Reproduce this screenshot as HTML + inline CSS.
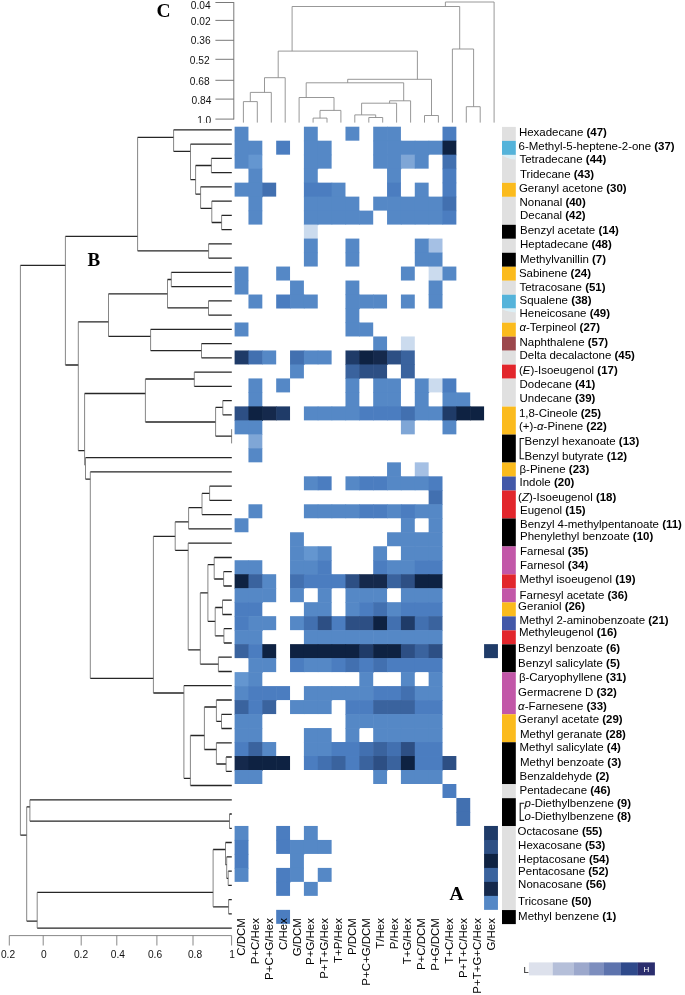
<!DOCTYPE html>
<html lang="en"><head><meta charset="utf-8"><title>Heatmap</title>
<style>html,body{margin:0;padding:0;background:#fff}svg{display:block}text{font-family:"Liberation Sans",sans-serif;fill:#000}.s{font-family:"Liberation Serif",serif;font-weight:bold;fill:#000}.l{font-size:10.4px}.l b,.l .b{font-weight:bold}.l .i{font-style:italic}.a{font-size:10.2px;fill:#111}</style></head><body>
<svg width="685" height="995" viewBox="0 0 685 995">
<rect width="685" height="995" fill="#fff"/>
<defs><clipPath id="c1"><rect x="0" y="0" width="240" height="123"/></clipPath></defs>
<g clip-path="url(#c1)">
<text class="a" x="210.7" y="9.0" text-anchor="end">0.04</text>
<text class="a" x="210.7" y="25.0" text-anchor="end">0.02</text>
<text class="a" x="210.7" y="43.8" text-anchor="end">0.36</text>
<text class="a" x="209.7" y="64.4" text-anchor="end">0.52</text>
<text class="a" x="209.7" y="84.8" text-anchor="end">0.68</text>
<text class="a" x="211.3" y="103.6" text-anchor="end">0.84</text>
<text class="a" x="211.3" y="124.0" text-anchor="end">1.0</text>
</g>
<g stroke="#6a6a6a" stroke-width="0.9" fill="none">
<path d="M233.8 2.1V119.5"/>
<path d="M215.4 2.5H233.8M215.4 20.4H233.8M215.4 40.3H233.8M215.4 59.3H233.8M215.4 80.3H233.8M215.4 99.1H233.8M215.4 119.1H233.8"/>
</g>
<path d="M243.4 101.6H257.3M250.3 92.4H271.3M264.5 77.7H285.2M278.2 51.1H417.4M299.1 97.5H334.0M320.0 110.4H340.9M313.1 118.1H327.0M306.2 82.8H403.7M389.6 100.8H410.6M361.6 103.2H396.6M354.8 114.9H375.7M368.8 117.5H382.7M347.7 79.3H431.5M424.5 115.5H438.4M292.1 6.5H459.7M452.4 49.0H473.6M466.3 106.7H480.2M445.4 2.0H494.1M243.4 101.6V122.6M257.3 101.6V122.6M250.3 92.4V101.6M271.3 92.4V122.6M264.5 77.7V92.4M285.2 77.7V122.6M278.2 51.1V77.7M299.1 97.5V122.6M334.0 97.5V110.4M340.9 110.4V122.6M320.0 110.4V118.1M313.1 118.1V122.6M327.0 118.1V122.6M306.2 82.8V97.5M403.7 82.8V100.8M410.6 100.8V122.6M389.6 100.8V103.2M396.6 103.2V122.6M361.6 103.2V114.9M354.8 114.9V122.6M375.7 114.9V117.5M368.8 117.5V122.6M382.7 117.5V122.6M347.7 79.3V82.8M431.5 79.3V115.5M424.5 115.5V122.6M438.4 115.5V122.6M417.4 51.1V79.3M292.1 6.5V51.1M459.7 6.5V49.0M452.4 49.0V122.6M473.6 49.0V106.7M466.3 106.7V122.6M480.2 106.7V122.6M445.4 2.0V6.5M494.1 2.0V122.6" stroke="#8c8c8c" stroke-width="0.9" fill="none"/>
<path d="M173.6 129.8H231.8M190.5 144.1H231.8M211.4 158.3H231.8M211.4 172.6H231.8M195.6 165.5H211.4M200.6 186.8H231.8M211.8 201.1H231.8M221.6 215.3H231.8M221.6 229.6H231.8M211.8 222.5H221.6M200.6 208.3H211.8M195.6 194.2H200.6M190.5 179.7H195.6M173.6 151.3H190.5M137.6 137.4H173.6M208.6 243.8H231.8M208.6 258.1H231.8M137.6 250.9H208.6M65.4 236.3H137.6M20.4 265.3H65.4M171.3 272.4H231.8M171.3 286.6H231.8M167.5 279.5H171.3M208.5 300.9H231.8M208.5 315.1H231.8M167.5 307.9H208.5M108.5 293.8H167.5M150.6 329.4H231.8M201.5 343.6H231.8M201.5 357.9H231.8M150.6 350.7H201.5M108.5 336.4H150.6M78.3 321.8H108.5M65.4 365.0H78.3M78.3 450.7H84.6M194.3 372.1H231.8M194.3 386.4H231.8M145.4 379.0H194.3M222.8 400.6H231.8M222.8 414.9H231.8M215.6 407.4H222.8M215.6 436.2H231.8M145.4 422.0H215.6M84.6 393.5H145.4M85.5 457.7H231.8M85.5 479.1H90.3M90.3 471.9H231.8M90.3 678.3H153.4M209.6 486.2H231.8M209.6 500.4H231.8M202.0 493.4H209.6M202.0 514.7H231.8M188.6 507.7H202.0M188.6 528.9H231.8M175.2 521.8H188.6M188.2 543.2H231.8M175.2 550.3H188.2M153.4 536.4H175.2M214.2 557.5H231.8M223.6 571.7H231.8M223.6 586.0H231.8M214.2 579.0H223.6M207.9 564.6H214.2M222.5 600.2H231.8M222.5 614.5H231.8M215.2 607.5H222.5M223.9 628.7H231.8M223.9 643.0H231.8M215.2 635.9H223.9M207.9 621.4H215.2M200.3 592.9H207.9M218.4 657.2H231.8M218.4 671.5H231.8M200.3 664.2H218.4M188.2 649.9H200.3M183.9 685.7H231.8M153.4 693.0H183.9M216.4 700.0H231.8M221.5 714.3H231.8M221.5 728.5H231.8M216.4 721.4H221.5M204.4 707.0H216.4M216.4 742.8H231.8M226.1 757.0H231.8M226.1 771.3H231.8M216.4 764.0H226.1M204.4 749.5H216.4M190.4 735.5H204.4M190.4 785.5H231.8M183.9 778.3H190.4M29.9 799.8H231.8M29.9 821.1H229.5M229.5 814.0H231.8M229.5 828.3H231.8M26.7 806.8H29.9M20.4 835.2H26.7M225.5 842.5H231.8M226.7 856.8H231.8M228.2 871.1H231.8M228.2 885.3H231.8M226.7 878.4H228.2M225.5 864.6H226.7M213.1 849.5H225.5M228.6 899.6H231.8M228.6 913.8H231.8M213.1 906.8H228.6M37.2 892.4H213.1M37.2 928.1H231.8M26.7 921.1H37.2" stroke="#262626" stroke-width="1.3" fill="none"/>
<path d="M211.4 158.3V172.6M221.6 215.3V229.6M211.8 201.1V222.5M200.6 186.8V208.3M195.6 165.5V194.2M190.5 144.1V179.7M173.6 129.8V151.3M208.6 243.8V258.1M137.6 137.4V250.9M65.4 236.3V365.0M20.4 265.3V835.2M171.3 272.4V286.6M208.5 300.9V315.1M167.5 279.5V307.9M201.5 343.6V357.9M150.6 329.4V350.7M108.5 293.8V336.4M78.3 321.8V450.7M194.3 372.1V386.4M222.8 400.6V414.9M231.6 429.2V443.4M215.6 407.4V436.2M145.4 379.0V422.0M84.6 393.5V465.3M85.5 457.7V479.1M90.3 471.9V678.3M209.6 486.2V500.4M202.0 493.4V514.7M188.6 507.7V528.9M188.2 543.2V649.9M175.2 521.8V550.3M153.4 536.4V693.0M223.6 571.7V586.0M214.2 557.5V579.0M222.5 600.2V614.5M223.9 628.7V643.0M215.2 607.5V635.9M207.9 564.6V621.4M218.4 657.2V671.5M200.3 592.9V664.2M183.9 685.7V778.3M221.5 714.3V728.5M216.4 700.0V721.4M226.1 757.0V771.3M216.4 742.8V764.0M204.4 707.0V749.5M190.4 735.5V785.5M29.9 799.8V821.1M229.5 814.0V828.3M26.7 806.8V921.1M228.2 871.1V885.3M226.7 856.8V878.4M225.5 842.5V864.6M228.6 899.6V913.8M213.1 849.5V906.8M37.2 892.4V928.1" stroke="#5e5e5e" stroke-width="0.75" fill="none"/>
<g stroke="#7a7a7a" stroke-width="0.9" fill="none">
<path d="M9.3 935.6H231.6M9.3 935.6V945.5M43.2 935.6V945.5M81.2 935.6V945.5M116.8 935.6V945.5M156.9 935.6V945.5M193.0 935.6V945.5M231.6 935.6V945.5"/></g>
<text class="a" x="8.0" y="958.0" text-anchor="middle">0.2</text>
<text class="a" x="43.8" y="958.0" text-anchor="middle">0</text>
<text class="a" x="81.0" y="958.0" text-anchor="middle">0.2</text>
<text class="a" x="117.9" y="958.0" text-anchor="middle">0.4</text>
<text class="a" x="155.0" y="958.0" text-anchor="middle">0.6</text>
<text class="a" x="195.0" y="958.0" text-anchor="middle">0.8</text>
<text class="a" x="232.2" y="958.0" text-anchor="middle">1</text>
<g>
<rect x="234.60" y="126.70" width="13.86" height="14.58" fill="#5588c6"/>
<rect x="303.90" y="126.70" width="13.86" height="14.58" fill="#5588c6"/>
<rect x="345.48" y="126.70" width="13.86" height="13.98" fill="#5588c6"/>
<rect x="373.20" y="126.70" width="14.46" height="14.58" fill="#5588c6"/>
<rect x="387.06" y="126.70" width="13.86" height="14.58" fill="#5588c6"/>
<rect x="442.50" y="126.70" width="13.86" height="14.58" fill="#4b7dc0"/>
<rect x="234.60" y="140.69" width="14.46" height="14.58" fill="#5588c6"/>
<rect x="248.46" y="140.69" width="13.86" height="14.58" fill="#5588c6"/>
<rect x="276.18" y="140.69" width="13.86" height="13.98" fill="#4b7dc0"/>
<rect x="303.90" y="140.69" width="14.46" height="14.58" fill="#5588c6"/>
<rect x="317.76" y="140.69" width="13.86" height="14.58" fill="#5588c6"/>
<rect x="373.20" y="140.69" width="14.46" height="14.58" fill="#5588c6"/>
<rect x="387.06" y="140.69" width="14.46" height="14.58" fill="#5588c6"/>
<rect x="400.92" y="140.69" width="14.46" height="14.58" fill="#5588c6"/>
<rect x="414.78" y="140.69" width="14.46" height="14.58" fill="#5588c6"/>
<rect x="428.64" y="140.69" width="14.46" height="13.98" fill="#5588c6"/>
<rect x="442.50" y="140.69" width="13.86" height="14.58" fill="#0e2242"/>
<rect x="234.60" y="154.67" width="14.46" height="13.98" fill="#5588c6"/>
<rect x="248.46" y="154.67" width="13.86" height="14.58" fill="#6496d0"/>
<rect x="303.90" y="154.67" width="14.46" height="14.58" fill="#5588c6"/>
<rect x="317.76" y="154.67" width="13.86" height="13.98" fill="#5588c6"/>
<rect x="373.20" y="154.67" width="14.46" height="13.98" fill="#5588c6"/>
<rect x="387.06" y="154.67" width="14.46" height="14.58" fill="#5588c6"/>
<rect x="400.92" y="154.67" width="14.46" height="13.98" fill="#7fa6d6"/>
<rect x="414.78" y="154.67" width="13.86" height="13.98" fill="#5588c6"/>
<rect x="442.50" y="154.67" width="13.86" height="14.58" fill="#4270b0"/>
<rect x="248.46" y="168.66" width="13.86" height="14.58" fill="#5588c6"/>
<rect x="303.90" y="168.66" width="13.86" height="14.58" fill="#5588c6"/>
<rect x="387.06" y="168.66" width="13.86" height="14.58" fill="#5588c6"/>
<rect x="442.50" y="168.66" width="13.86" height="14.58" fill="#4b7dc0"/>
<rect x="234.60" y="182.64" width="14.46" height="13.98" fill="#5588c6"/>
<rect x="248.46" y="182.64" width="14.46" height="14.58" fill="#5588c6"/>
<rect x="262.32" y="182.64" width="13.86" height="13.98" fill="#4270b0"/>
<rect x="303.90" y="182.64" width="14.46" height="14.58" fill="#4b7dc0"/>
<rect x="317.76" y="182.64" width="14.46" height="14.58" fill="#4b7dc0"/>
<rect x="331.62" y="182.64" width="13.86" height="14.58" fill="#5588c6"/>
<rect x="387.06" y="182.64" width="13.86" height="14.58" fill="#4b7dc0"/>
<rect x="414.78" y="182.64" width="13.86" height="14.58" fill="#5588c6"/>
<rect x="442.50" y="182.64" width="13.86" height="14.58" fill="#4b7dc0"/>
<rect x="248.46" y="196.62" width="13.86" height="14.58" fill="#5588c6"/>
<rect x="303.90" y="196.62" width="14.46" height="14.58" fill="#5588c6"/>
<rect x="317.76" y="196.62" width="14.46" height="14.58" fill="#5588c6"/>
<rect x="331.62" y="196.62" width="14.46" height="14.58" fill="#5588c6"/>
<rect x="345.48" y="196.62" width="13.86" height="14.58" fill="#5588c6"/>
<rect x="373.20" y="196.62" width="14.46" height="13.98" fill="#5588c6"/>
<rect x="387.06" y="196.62" width="14.46" height="14.58" fill="#5588c6"/>
<rect x="400.92" y="196.62" width="14.46" height="14.58" fill="#5588c6"/>
<rect x="414.78" y="196.62" width="14.46" height="14.58" fill="#5588c6"/>
<rect x="428.64" y="196.62" width="14.46" height="14.58" fill="#5588c6"/>
<rect x="442.50" y="196.62" width="13.86" height="14.58" fill="#4270b0"/>
<rect x="248.46" y="210.61" width="13.86" height="13.98" fill="#5588c6"/>
<rect x="303.90" y="210.61" width="14.46" height="14.58" fill="#5588c6"/>
<rect x="317.76" y="210.61" width="14.46" height="13.98" fill="#5588c6"/>
<rect x="331.62" y="210.61" width="14.46" height="13.98" fill="#5588c6"/>
<rect x="345.48" y="210.61" width="14.46" height="13.98" fill="#5588c6"/>
<rect x="359.34" y="210.61" width="13.86" height="13.98" fill="#5588c6"/>
<rect x="387.06" y="210.61" width="14.46" height="13.98" fill="#5588c6"/>
<rect x="400.92" y="210.61" width="14.46" height="13.98" fill="#5588c6"/>
<rect x="414.78" y="210.61" width="14.46" height="13.98" fill="#5588c6"/>
<rect x="428.64" y="210.61" width="14.46" height="13.98" fill="#5588c6"/>
<rect x="442.50" y="210.61" width="13.86" height="13.98" fill="#4b7dc0"/>
<rect x="303.90" y="224.59" width="13.86" height="14.58" fill="#cbdbee"/>
<rect x="303.90" y="238.58" width="13.86" height="14.58" fill="#5588c6"/>
<rect x="345.48" y="238.58" width="13.86" height="14.58" fill="#5588c6"/>
<rect x="414.78" y="238.58" width="14.46" height="14.58" fill="#5588c6"/>
<rect x="428.64" y="238.58" width="13.86" height="14.58" fill="#a5c0e4"/>
<rect x="303.90" y="252.56" width="13.86" height="13.98" fill="#5588c6"/>
<rect x="345.48" y="252.56" width="13.86" height="13.98" fill="#5588c6"/>
<rect x="414.78" y="252.56" width="14.46" height="13.98" fill="#5588c6"/>
<rect x="428.64" y="252.56" width="13.86" height="14.58" fill="#5588c6"/>
<rect x="234.60" y="266.55" width="13.86" height="14.58" fill="#5588c6"/>
<rect x="276.18" y="266.55" width="13.86" height="13.98" fill="#5588c6"/>
<rect x="400.92" y="266.55" width="13.86" height="13.98" fill="#5588c6"/>
<rect x="428.64" y="266.55" width="14.46" height="14.58" fill="#cbdbee"/>
<rect x="442.50" y="266.55" width="13.86" height="13.98" fill="#5588c6"/>
<rect x="234.60" y="280.53" width="13.86" height="13.98" fill="#5588c6"/>
<rect x="290.04" y="280.53" width="13.86" height="14.58" fill="#5588c6"/>
<rect x="345.48" y="280.53" width="13.86" height="14.58" fill="#5588c6"/>
<rect x="428.64" y="280.53" width="13.86" height="14.58" fill="#5588c6"/>
<rect x="248.46" y="294.52" width="13.86" height="13.98" fill="#5588c6"/>
<rect x="276.18" y="294.52" width="14.46" height="13.98" fill="#4b7dc0"/>
<rect x="290.04" y="294.52" width="14.46" height="13.98" fill="#5588c6"/>
<rect x="303.90" y="294.52" width="13.86" height="13.98" fill="#5588c6"/>
<rect x="345.48" y="294.52" width="14.46" height="14.58" fill="#5588c6"/>
<rect x="359.34" y="294.52" width="14.46" height="13.98" fill="#5588c6"/>
<rect x="373.20" y="294.52" width="13.86" height="13.98" fill="#5588c6"/>
<rect x="400.92" y="294.52" width="13.86" height="13.98" fill="#5588c6"/>
<rect x="428.64" y="294.52" width="13.86" height="13.98" fill="#5588c6"/>
<rect x="345.48" y="308.50" width="13.86" height="14.58" fill="#5588c6"/>
<rect x="234.60" y="322.49" width="13.86" height="13.98" fill="#5588c6"/>
<rect x="345.48" y="322.49" width="14.46" height="13.98" fill="#5588c6"/>
<rect x="359.34" y="322.49" width="13.86" height="13.98" fill="#5588c6"/>
<rect x="373.20" y="336.47" width="13.86" height="14.58" fill="#5588c6"/>
<rect x="400.92" y="336.47" width="13.86" height="14.58" fill="#cbdbee"/>
<rect x="234.60" y="350.46" width="14.46" height="13.98" fill="#1f3b68"/>
<rect x="248.46" y="350.46" width="14.46" height="13.98" fill="#4270b0"/>
<rect x="262.32" y="350.46" width="13.86" height="13.98" fill="#5588c6"/>
<rect x="290.04" y="350.46" width="14.46" height="14.58" fill="#4270b0"/>
<rect x="303.90" y="350.46" width="14.46" height="13.98" fill="#5588c6"/>
<rect x="317.76" y="350.46" width="13.86" height="13.98" fill="#5588c6"/>
<rect x="345.48" y="350.46" width="14.46" height="14.58" fill="#1f3b68"/>
<rect x="359.34" y="350.46" width="14.46" height="14.58" fill="#0e2242"/>
<rect x="373.20" y="350.46" width="14.46" height="14.58" fill="#15294c"/>
<rect x="387.06" y="350.46" width="14.46" height="13.98" fill="#2d4f84"/>
<rect x="400.92" y="350.46" width="13.86" height="14.58" fill="#3a639e"/>
<rect x="290.04" y="364.44" width="13.86" height="13.98" fill="#5588c6"/>
<rect x="345.48" y="364.44" width="14.46" height="14.58" fill="#3a639e"/>
<rect x="359.34" y="364.44" width="14.46" height="13.98" fill="#2d4f84"/>
<rect x="373.20" y="364.44" width="13.86" height="14.58" fill="#2d4f84"/>
<rect x="400.92" y="364.44" width="13.86" height="13.98" fill="#3a639e"/>
<rect x="248.46" y="378.43" width="13.86" height="14.58" fill="#5588c6"/>
<rect x="276.18" y="378.43" width="13.86" height="13.98" fill="#5588c6"/>
<rect x="345.48" y="378.43" width="13.86" height="14.58" fill="#5588c6"/>
<rect x="373.20" y="378.43" width="14.46" height="14.58" fill="#5588c6"/>
<rect x="387.06" y="378.43" width="13.86" height="14.58" fill="#5588c6"/>
<rect x="414.78" y="378.43" width="14.46" height="14.58" fill="#5588c6"/>
<rect x="428.64" y="378.43" width="14.46" height="13.98" fill="#cbdbee"/>
<rect x="442.50" y="378.43" width="13.86" height="14.58" fill="#4b7dc0"/>
<rect x="248.46" y="392.41" width="13.86" height="14.58" fill="#5588c6"/>
<rect x="345.48" y="392.41" width="13.86" height="14.58" fill="#5588c6"/>
<rect x="373.20" y="392.41" width="14.46" height="14.58" fill="#5588c6"/>
<rect x="387.06" y="392.41" width="13.86" height="14.58" fill="#5588c6"/>
<rect x="414.78" y="392.41" width="13.86" height="14.58" fill="#5588c6"/>
<rect x="442.50" y="392.41" width="14.46" height="14.58" fill="#5588c6"/>
<rect x="456.36" y="392.41" width="13.86" height="14.58" fill="#5588c6"/>
<rect x="234.60" y="406.40" width="14.46" height="14.58" fill="#2d4f84"/>
<rect x="248.46" y="406.40" width="14.46" height="14.58" fill="#0e2242"/>
<rect x="262.32" y="406.40" width="14.46" height="13.98" fill="#15294c"/>
<rect x="276.18" y="406.40" width="13.86" height="13.98" fill="#1f3b68"/>
<rect x="303.90" y="406.40" width="14.46" height="13.98" fill="#5588c6"/>
<rect x="317.76" y="406.40" width="14.46" height="13.98" fill="#5588c6"/>
<rect x="331.62" y="406.40" width="14.46" height="13.98" fill="#5588c6"/>
<rect x="345.48" y="406.40" width="14.46" height="13.98" fill="#5588c6"/>
<rect x="359.34" y="406.40" width="14.46" height="13.98" fill="#4b7dc0"/>
<rect x="373.20" y="406.40" width="14.46" height="13.98" fill="#4b7dc0"/>
<rect x="387.06" y="406.40" width="14.46" height="13.98" fill="#4b7dc0"/>
<rect x="400.92" y="406.40" width="14.46" height="14.58" fill="#4270b0"/>
<rect x="414.78" y="406.40" width="14.46" height="13.98" fill="#5588c6"/>
<rect x="428.64" y="406.40" width="14.46" height="13.98" fill="#5588c6"/>
<rect x="442.50" y="406.40" width="14.46" height="14.58" fill="#1f3b68"/>
<rect x="456.36" y="406.40" width="14.46" height="13.98" fill="#0e2242"/>
<rect x="470.22" y="406.40" width="13.86" height="13.98" fill="#0e2242"/>
<rect x="234.60" y="420.38" width="14.46" height="13.98" fill="#5588c6"/>
<rect x="248.46" y="420.38" width="13.86" height="14.58" fill="#5588c6"/>
<rect x="400.92" y="420.38" width="13.86" height="13.98" fill="#7fa6d6"/>
<rect x="442.50" y="420.38" width="13.86" height="13.98" fill="#5588c6"/>
<rect x="248.46" y="434.37" width="13.86" height="14.58" fill="#7fa6d6"/>
<rect x="248.46" y="448.35" width="13.86" height="13.98" fill="#5588c6"/>
<rect x="387.06" y="462.34" width="13.86" height="14.58" fill="#5588c6"/>
<rect x="414.78" y="462.34" width="13.86" height="14.58" fill="#a5c0e4"/>
<rect x="303.90" y="476.32" width="14.46" height="13.98" fill="#5588c6"/>
<rect x="317.76" y="476.32" width="13.86" height="13.98" fill="#4b7dc0"/>
<rect x="345.48" y="476.32" width="14.46" height="13.98" fill="#5588c6"/>
<rect x="359.34" y="476.32" width="14.46" height="13.98" fill="#4b7dc0"/>
<rect x="373.20" y="476.32" width="14.46" height="13.98" fill="#4b7dc0"/>
<rect x="387.06" y="476.32" width="14.46" height="13.98" fill="#5588c6"/>
<rect x="400.92" y="476.32" width="14.46" height="13.98" fill="#5588c6"/>
<rect x="414.78" y="476.32" width="14.46" height="13.98" fill="#5588c6"/>
<rect x="428.64" y="476.32" width="13.86" height="14.58" fill="#4b7dc0"/>
<rect x="428.64" y="490.31" width="13.86" height="14.58" fill="#4270b0"/>
<rect x="248.46" y="504.29" width="13.86" height="13.98" fill="#5588c6"/>
<rect x="303.90" y="504.29" width="14.46" height="13.98" fill="#5588c6"/>
<rect x="317.76" y="504.29" width="14.46" height="13.98" fill="#5588c6"/>
<rect x="331.62" y="504.29" width="14.46" height="13.98" fill="#5588c6"/>
<rect x="345.48" y="504.29" width="14.46" height="13.98" fill="#5588c6"/>
<rect x="359.34" y="504.29" width="14.46" height="13.98" fill="#4b7dc0"/>
<rect x="373.20" y="504.29" width="14.46" height="13.98" fill="#4b7dc0"/>
<rect x="387.06" y="504.29" width="14.46" height="13.98" fill="#5588c6"/>
<rect x="400.92" y="504.29" width="14.46" height="14.58" fill="#4b7dc0"/>
<rect x="414.78" y="504.29" width="14.46" height="13.98" fill="#5588c6"/>
<rect x="428.64" y="504.29" width="13.86" height="14.58" fill="#5588c6"/>
<rect x="234.60" y="518.28" width="13.86" height="13.98" fill="#5588c6"/>
<rect x="400.92" y="518.28" width="13.86" height="14.58" fill="#5588c6"/>
<rect x="428.64" y="518.28" width="13.86" height="14.58" fill="#5588c6"/>
<rect x="290.04" y="532.26" width="13.86" height="14.58" fill="#5588c6"/>
<rect x="387.06" y="532.26" width="14.46" height="13.98" fill="#5588c6"/>
<rect x="400.92" y="532.26" width="14.46" height="14.58" fill="#5588c6"/>
<rect x="414.78" y="532.26" width="14.46" height="14.58" fill="#5588c6"/>
<rect x="428.64" y="532.26" width="13.86" height="14.58" fill="#5588c6"/>
<rect x="290.04" y="546.25" width="14.46" height="14.58" fill="#5588c6"/>
<rect x="303.90" y="546.25" width="14.46" height="14.58" fill="#6496d0"/>
<rect x="317.76" y="546.25" width="13.86" height="14.58" fill="#5588c6"/>
<rect x="373.20" y="546.25" width="13.86" height="14.58" fill="#5588c6"/>
<rect x="400.92" y="546.25" width="14.46" height="14.58" fill="#5588c6"/>
<rect x="414.78" y="546.25" width="14.46" height="14.58" fill="#5588c6"/>
<rect x="428.64" y="546.25" width="13.86" height="14.58" fill="#5588c6"/>
<rect x="234.60" y="560.24" width="14.46" height="14.58" fill="#5588c6"/>
<rect x="248.46" y="560.24" width="13.86" height="14.58" fill="#5588c6"/>
<rect x="290.04" y="560.24" width="14.46" height="14.58" fill="#5588c6"/>
<rect x="303.90" y="560.24" width="14.46" height="14.58" fill="#5588c6"/>
<rect x="317.76" y="560.24" width="13.86" height="14.58" fill="#4b7dc0"/>
<rect x="373.20" y="560.24" width="14.46" height="14.58" fill="#4b7dc0"/>
<rect x="387.06" y="560.24" width="14.46" height="14.58" fill="#5588c6"/>
<rect x="400.92" y="560.24" width="14.46" height="14.58" fill="#5588c6"/>
<rect x="414.78" y="560.24" width="14.46" height="14.58" fill="#4b7dc0"/>
<rect x="428.64" y="560.24" width="13.86" height="14.58" fill="#4b7dc0"/>
<rect x="234.60" y="574.22" width="14.46" height="14.58" fill="#0e2242"/>
<rect x="248.46" y="574.22" width="14.46" height="14.58" fill="#3a639e"/>
<rect x="262.32" y="574.22" width="13.86" height="14.58" fill="#5588c6"/>
<rect x="290.04" y="574.22" width="14.46" height="14.58" fill="#4270b0"/>
<rect x="303.90" y="574.22" width="14.46" height="13.98" fill="#4b7dc0"/>
<rect x="317.76" y="574.22" width="14.46" height="14.58" fill="#4b7dc0"/>
<rect x="331.62" y="574.22" width="14.46" height="13.98" fill="#4b7dc0"/>
<rect x="345.48" y="574.22" width="14.46" height="14.58" fill="#2d4f84"/>
<rect x="359.34" y="574.22" width="14.46" height="14.58" fill="#15294c"/>
<rect x="373.20" y="574.22" width="14.46" height="14.58" fill="#15294c"/>
<rect x="387.06" y="574.22" width="14.46" height="13.98" fill="#3a639e"/>
<rect x="400.92" y="574.22" width="14.46" height="14.58" fill="#2d4f84"/>
<rect x="414.78" y="574.22" width="14.46" height="14.58" fill="#0e2242"/>
<rect x="428.64" y="574.22" width="13.86" height="14.58" fill="#0e2242"/>
<rect x="234.60" y="588.21" width="14.46" height="14.58" fill="#5588c6"/>
<rect x="248.46" y="588.21" width="14.46" height="14.58" fill="#5588c6"/>
<rect x="262.32" y="588.21" width="13.86" height="13.98" fill="#5588c6"/>
<rect x="290.04" y="588.21" width="13.86" height="13.98" fill="#5588c6"/>
<rect x="317.76" y="588.21" width="13.86" height="14.58" fill="#5588c6"/>
<rect x="345.48" y="588.21" width="14.46" height="14.58" fill="#5588c6"/>
<rect x="359.34" y="588.21" width="14.46" height="14.58" fill="#5588c6"/>
<rect x="373.20" y="588.21" width="13.86" height="14.58" fill="#5588c6"/>
<rect x="400.92" y="588.21" width="14.46" height="14.58" fill="#5588c6"/>
<rect x="414.78" y="588.21" width="14.46" height="14.58" fill="#5588c6"/>
<rect x="428.64" y="588.21" width="13.86" height="14.58" fill="#5588c6"/>
<rect x="234.60" y="602.19" width="14.46" height="14.58" fill="#4b7dc0"/>
<rect x="248.46" y="602.19" width="13.86" height="14.58" fill="#4b7dc0"/>
<rect x="303.90" y="602.19" width="14.46" height="14.58" fill="#5588c6"/>
<rect x="317.76" y="602.19" width="13.86" height="14.58" fill="#5588c6"/>
<rect x="345.48" y="602.19" width="14.46" height="14.58" fill="#5588c6"/>
<rect x="359.34" y="602.19" width="14.46" height="14.58" fill="#4b7dc0"/>
<rect x="373.20" y="602.19" width="14.46" height="14.58" fill="#4270b0"/>
<rect x="387.06" y="602.19" width="14.46" height="14.58" fill="#5588c6"/>
<rect x="400.92" y="602.19" width="14.46" height="14.58" fill="#4b7dc0"/>
<rect x="414.78" y="602.19" width="14.46" height="14.58" fill="#4b7dc0"/>
<rect x="428.64" y="602.19" width="13.86" height="14.58" fill="#4b7dc0"/>
<rect x="234.60" y="616.17" width="14.46" height="14.58" fill="#4b7dc0"/>
<rect x="248.46" y="616.17" width="14.46" height="14.58" fill="#5588c6"/>
<rect x="262.32" y="616.17" width="13.86" height="13.98" fill="#5588c6"/>
<rect x="290.04" y="616.17" width="14.46" height="13.98" fill="#5588c6"/>
<rect x="303.90" y="616.17" width="14.46" height="14.58" fill="#4270b0"/>
<rect x="317.76" y="616.17" width="14.46" height="14.58" fill="#2d4f84"/>
<rect x="331.62" y="616.17" width="14.46" height="14.58" fill="#4b7dc0"/>
<rect x="345.48" y="616.17" width="14.46" height="14.58" fill="#2d4f84"/>
<rect x="359.34" y="616.17" width="14.46" height="14.58" fill="#2d4f84"/>
<rect x="373.20" y="616.17" width="14.46" height="14.58" fill="#0e2242"/>
<rect x="387.06" y="616.17" width="14.46" height="14.58" fill="#4270b0"/>
<rect x="400.92" y="616.17" width="14.46" height="14.58" fill="#1f3b68"/>
<rect x="414.78" y="616.17" width="14.46" height="14.58" fill="#4270b0"/>
<rect x="428.64" y="616.17" width="13.86" height="14.58" fill="#3a639e"/>
<rect x="234.60" y="630.16" width="14.46" height="14.58" fill="#5588c6"/>
<rect x="248.46" y="630.16" width="13.86" height="14.58" fill="#5588c6"/>
<rect x="303.90" y="630.16" width="14.46" height="14.58" fill="#5588c6"/>
<rect x="317.76" y="630.16" width="14.46" height="14.58" fill="#5588c6"/>
<rect x="331.62" y="630.16" width="14.46" height="14.58" fill="#5588c6"/>
<rect x="345.48" y="630.16" width="14.46" height="14.58" fill="#5588c6"/>
<rect x="359.34" y="630.16" width="14.46" height="14.58" fill="#5588c6"/>
<rect x="373.20" y="630.16" width="14.46" height="14.58" fill="#5588c6"/>
<rect x="387.06" y="630.16" width="14.46" height="14.58" fill="#5588c6"/>
<rect x="400.92" y="630.16" width="14.46" height="14.58" fill="#5588c6"/>
<rect x="414.78" y="630.16" width="14.46" height="14.58" fill="#5588c6"/>
<rect x="428.64" y="630.16" width="13.86" height="14.58" fill="#5588c6"/>
<rect x="234.60" y="644.14" width="14.46" height="13.98" fill="#3a639e"/>
<rect x="248.46" y="644.14" width="14.46" height="14.58" fill="#4b7dc0"/>
<rect x="262.32" y="644.14" width="13.86" height="14.58" fill="#0e2242"/>
<rect x="290.04" y="644.14" width="14.46" height="14.58" fill="#0e2242"/>
<rect x="303.90" y="644.14" width="14.46" height="14.58" fill="#0e2242"/>
<rect x="317.76" y="644.14" width="14.46" height="14.58" fill="#0e2242"/>
<rect x="331.62" y="644.14" width="14.46" height="14.58" fill="#0e2242"/>
<rect x="345.48" y="644.14" width="14.46" height="14.58" fill="#0e2242"/>
<rect x="359.34" y="644.14" width="14.46" height="14.58" fill="#1f3b68"/>
<rect x="373.20" y="644.14" width="14.46" height="14.58" fill="#0e2242"/>
<rect x="387.06" y="644.14" width="14.46" height="14.58" fill="#0e2242"/>
<rect x="400.92" y="644.14" width="14.46" height="14.58" fill="#2d4f84"/>
<rect x="414.78" y="644.14" width="14.46" height="14.58" fill="#3a639e"/>
<rect x="428.64" y="644.14" width="13.86" height="14.58" fill="#2d4f84"/>
<rect x="484.08" y="644.14" width="13.86" height="13.98" fill="#1f3b68"/>
<rect x="248.46" y="658.13" width="14.46" height="14.58" fill="#5588c6"/>
<rect x="262.32" y="658.13" width="13.86" height="13.98" fill="#5588c6"/>
<rect x="290.04" y="658.13" width="14.46" height="13.98" fill="#4b7dc0"/>
<rect x="303.90" y="658.13" width="14.46" height="13.98" fill="#5588c6"/>
<rect x="317.76" y="658.13" width="14.46" height="13.98" fill="#5588c6"/>
<rect x="331.62" y="658.13" width="14.46" height="13.98" fill="#4b7dc0"/>
<rect x="345.48" y="658.13" width="14.46" height="13.98" fill="#4270b0"/>
<rect x="359.34" y="658.13" width="14.46" height="14.58" fill="#4b7dc0"/>
<rect x="373.20" y="658.13" width="14.46" height="13.98" fill="#4270b0"/>
<rect x="387.06" y="658.13" width="14.46" height="13.98" fill="#4b7dc0"/>
<rect x="400.92" y="658.13" width="14.46" height="14.58" fill="#4b7dc0"/>
<rect x="414.78" y="658.13" width="14.46" height="13.98" fill="#4b7dc0"/>
<rect x="428.64" y="658.13" width="13.86" height="14.58" fill="#4b7dc0"/>
<rect x="234.60" y="672.12" width="14.46" height="14.58" fill="#6496d0"/>
<rect x="248.46" y="672.12" width="13.86" height="14.58" fill="#5588c6"/>
<rect x="359.34" y="672.12" width="13.86" height="14.58" fill="#5588c6"/>
<rect x="400.92" y="672.12" width="13.86" height="14.58" fill="#5588c6"/>
<rect x="428.64" y="672.12" width="13.86" height="14.58" fill="#5588c6"/>
<rect x="234.60" y="686.10" width="14.46" height="14.58" fill="#5588c6"/>
<rect x="248.46" y="686.10" width="14.46" height="14.58" fill="#4b7dc0"/>
<rect x="262.32" y="686.10" width="14.46" height="14.58" fill="#4b7dc0"/>
<rect x="276.18" y="686.10" width="13.86" height="13.98" fill="#4b7dc0"/>
<rect x="303.90" y="686.10" width="14.46" height="14.58" fill="#5588c6"/>
<rect x="317.76" y="686.10" width="14.46" height="14.58" fill="#5588c6"/>
<rect x="331.62" y="686.10" width="14.46" height="13.98" fill="#5588c6"/>
<rect x="345.48" y="686.10" width="14.46" height="14.58" fill="#5588c6"/>
<rect x="359.34" y="686.10" width="14.46" height="14.58" fill="#5588c6"/>
<rect x="373.20" y="686.10" width="14.46" height="14.58" fill="#4b7dc0"/>
<rect x="387.06" y="686.10" width="14.46" height="14.58" fill="#4b7dc0"/>
<rect x="400.92" y="686.10" width="14.46" height="14.58" fill="#4270b0"/>
<rect x="414.78" y="686.10" width="14.46" height="14.58" fill="#5588c6"/>
<rect x="428.64" y="686.10" width="13.86" height="14.58" fill="#5588c6"/>
<rect x="234.60" y="700.09" width="14.46" height="14.58" fill="#3a639e"/>
<rect x="248.46" y="700.09" width="14.46" height="14.58" fill="#4b7dc0"/>
<rect x="262.32" y="700.09" width="13.86" height="13.98" fill="#3a639e"/>
<rect x="290.04" y="700.09" width="14.46" height="13.98" fill="#5588c6"/>
<rect x="303.90" y="700.09" width="14.46" height="13.98" fill="#5588c6"/>
<rect x="317.76" y="700.09" width="13.86" height="13.98" fill="#5588c6"/>
<rect x="345.48" y="700.09" width="14.46" height="14.58" fill="#4b7dc0"/>
<rect x="359.34" y="700.09" width="14.46" height="14.58" fill="#4b7dc0"/>
<rect x="373.20" y="700.09" width="14.46" height="14.58" fill="#3a639e"/>
<rect x="387.06" y="700.09" width="14.46" height="14.58" fill="#3a639e"/>
<rect x="400.92" y="700.09" width="14.46" height="14.58" fill="#3a639e"/>
<rect x="414.78" y="700.09" width="14.46" height="14.58" fill="#4b7dc0"/>
<rect x="428.64" y="700.09" width="13.86" height="14.58" fill="#4b7dc0"/>
<rect x="234.60" y="714.07" width="14.46" height="14.58" fill="#5588c6"/>
<rect x="248.46" y="714.07" width="13.86" height="14.58" fill="#5588c6"/>
<rect x="345.48" y="714.07" width="14.46" height="14.58" fill="#5588c6"/>
<rect x="359.34" y="714.07" width="14.46" height="13.98" fill="#5588c6"/>
<rect x="373.20" y="714.07" width="14.46" height="14.58" fill="#5588c6"/>
<rect x="387.06" y="714.07" width="14.46" height="14.58" fill="#5588c6"/>
<rect x="400.92" y="714.07" width="14.46" height="14.58" fill="#5588c6"/>
<rect x="414.78" y="714.07" width="14.46" height="14.58" fill="#5588c6"/>
<rect x="428.64" y="714.07" width="13.86" height="14.58" fill="#5588c6"/>
<rect x="234.60" y="728.06" width="14.46" height="14.58" fill="#5588c6"/>
<rect x="248.46" y="728.06" width="13.86" height="14.58" fill="#5588c6"/>
<rect x="303.90" y="728.06" width="14.46" height="14.58" fill="#5588c6"/>
<rect x="317.76" y="728.06" width="13.86" height="14.58" fill="#5588c6"/>
<rect x="345.48" y="728.06" width="13.86" height="14.58" fill="#5588c6"/>
<rect x="373.20" y="728.06" width="14.46" height="14.58" fill="#5588c6"/>
<rect x="387.06" y="728.06" width="14.46" height="14.58" fill="#5588c6"/>
<rect x="400.92" y="728.06" width="14.46" height="14.58" fill="#5588c6"/>
<rect x="414.78" y="728.06" width="14.46" height="14.58" fill="#5588c6"/>
<rect x="428.64" y="728.06" width="13.86" height="14.58" fill="#5588c6"/>
<rect x="234.60" y="742.04" width="14.46" height="14.58" fill="#4b7dc0"/>
<rect x="248.46" y="742.04" width="14.46" height="14.58" fill="#3a639e"/>
<rect x="262.32" y="742.04" width="13.86" height="14.58" fill="#5588c6"/>
<rect x="303.90" y="742.04" width="14.46" height="14.58" fill="#5588c6"/>
<rect x="317.76" y="742.04" width="14.46" height="14.58" fill="#5588c6"/>
<rect x="331.62" y="742.04" width="14.46" height="14.58" fill="#4b7dc0"/>
<rect x="345.48" y="742.04" width="14.46" height="14.58" fill="#4b7dc0"/>
<rect x="359.34" y="742.04" width="14.46" height="14.58" fill="#4270b0"/>
<rect x="373.20" y="742.04" width="14.46" height="14.58" fill="#3a639e"/>
<rect x="387.06" y="742.04" width="14.46" height="14.58" fill="#4270b0"/>
<rect x="400.92" y="742.04" width="14.46" height="14.58" fill="#2d4f84"/>
<rect x="414.78" y="742.04" width="14.46" height="14.58" fill="#4b7dc0"/>
<rect x="428.64" y="742.04" width="13.86" height="14.58" fill="#4b7dc0"/>
<rect x="234.60" y="756.02" width="14.46" height="14.58" fill="#15294c"/>
<rect x="248.46" y="756.02" width="14.46" height="14.58" fill="#0e2242"/>
<rect x="262.32" y="756.02" width="14.46" height="13.98" fill="#0e2242"/>
<rect x="276.18" y="756.02" width="13.86" height="13.98" fill="#0e2242"/>
<rect x="303.90" y="756.02" width="14.46" height="13.98" fill="#4b7dc0"/>
<rect x="317.76" y="756.02" width="14.46" height="13.98" fill="#4270b0"/>
<rect x="331.62" y="756.02" width="14.46" height="13.98" fill="#3a639e"/>
<rect x="345.48" y="756.02" width="14.46" height="13.98" fill="#4b7dc0"/>
<rect x="359.34" y="756.02" width="14.46" height="13.98" fill="#3a639e"/>
<rect x="373.20" y="756.02" width="14.46" height="14.58" fill="#2d4f84"/>
<rect x="387.06" y="756.02" width="14.46" height="13.98" fill="#3a639e"/>
<rect x="400.92" y="756.02" width="14.46" height="14.58" fill="#0e2242"/>
<rect x="414.78" y="756.02" width="14.46" height="14.58" fill="#4b7dc0"/>
<rect x="428.64" y="756.02" width="14.46" height="14.58" fill="#4b7dc0"/>
<rect x="442.50" y="756.02" width="13.86" height="13.98" fill="#2d4f84"/>
<rect x="234.60" y="770.01" width="14.46" height="13.98" fill="#5588c6"/>
<rect x="248.46" y="770.01" width="13.86" height="13.98" fill="#5588c6"/>
<rect x="373.20" y="770.01" width="13.86" height="13.98" fill="#5588c6"/>
<rect x="400.92" y="770.01" width="14.46" height="13.98" fill="#5588c6"/>
<rect x="414.78" y="770.01" width="14.46" height="13.98" fill="#5588c6"/>
<rect x="428.64" y="770.01" width="13.86" height="13.98" fill="#5588c6"/>
<rect x="442.50" y="784.00" width="13.86" height="13.98" fill="#4b7dc0"/>
<rect x="456.36" y="797.98" width="13.86" height="14.58" fill="#4270b0"/>
<rect x="456.36" y="811.97" width="13.86" height="13.98" fill="#4270b0"/>
<rect x="234.60" y="825.95" width="13.86" height="14.58" fill="#5588c6"/>
<rect x="276.18" y="825.95" width="13.86" height="14.58" fill="#4b7dc0"/>
<rect x="303.90" y="825.95" width="13.86" height="14.58" fill="#5588c6"/>
<rect x="484.08" y="825.95" width="13.86" height="14.58" fill="#1f3b68"/>
<rect x="234.60" y="839.94" width="13.86" height="14.58" fill="#4b7dc0"/>
<rect x="276.18" y="839.94" width="14.46" height="13.98" fill="#4b7dc0"/>
<rect x="290.04" y="839.94" width="14.46" height="14.58" fill="#5588c6"/>
<rect x="303.90" y="839.94" width="14.46" height="13.98" fill="#5588c6"/>
<rect x="317.76" y="839.94" width="13.86" height="13.98" fill="#5588c6"/>
<rect x="484.08" y="839.94" width="13.86" height="14.58" fill="#2d4f84"/>
<rect x="234.60" y="853.92" width="13.86" height="14.58" fill="#4b7dc0"/>
<rect x="290.04" y="853.92" width="13.86" height="14.58" fill="#5588c6"/>
<rect x="484.08" y="853.92" width="13.86" height="14.58" fill="#0e2242"/>
<rect x="234.60" y="867.90" width="13.86" height="13.98" fill="#5588c6"/>
<rect x="276.18" y="867.90" width="14.46" height="14.58" fill="#4b7dc0"/>
<rect x="290.04" y="867.90" width="13.86" height="13.98" fill="#5588c6"/>
<rect x="317.76" y="867.90" width="13.86" height="13.98" fill="#5588c6"/>
<rect x="484.08" y="867.90" width="13.86" height="14.58" fill="#3a639e"/>
<rect x="276.18" y="881.89" width="13.86" height="13.98" fill="#4b7dc0"/>
<rect x="303.90" y="881.89" width="13.86" height="13.98" fill="#5588c6"/>
<rect x="484.08" y="881.89" width="13.86" height="14.58" fill="#15294c"/>
<rect x="484.08" y="895.88" width="13.86" height="13.98" fill="#5588c6"/>
<rect x="276.18" y="909.86" width="13.86" height="13.98" fill="#4b7dc0"/>
</g>
<g>
<rect x="502.0" y="126.90" width="13.8" height="14.04" fill="#e0e0e0"/>
<rect x="502.0" y="140.88" width="13.8" height="14.04" fill="#54b3da"/>
<rect x="502.0" y="154.87" width="13.8" height="28.02" fill="#e0e0e0"/>
<rect x="502.0" y="182.84" width="13.8" height="14.04" fill="#fbbb1d"/>
<rect x="502.0" y="196.82" width="13.8" height="28.02" fill="#e0e0e0"/>
<rect x="502.0" y="224.80" width="13.8" height="14.04" fill="#000000"/>
<rect x="502.0" y="238.78" width="13.8" height="14.04" fill="#e0e0e0"/>
<rect x="502.0" y="252.76" width="13.8" height="14.04" fill="#000000"/>
<rect x="502.0" y="266.75" width="13.8" height="14.04" fill="#fbbb1d"/>
<rect x="502.0" y="280.74" width="13.8" height="14.04" fill="#e0e0e0"/>
<rect x="502.0" y="294.72" width="13.8" height="14.04" fill="#54b3da"/>
<rect x="502.0" y="308.71" width="13.8" height="14.04" fill="#e0e0e0"/>
<rect x="502.0" y="322.69" width="13.8" height="14.04" fill="#fbbb1d"/>
<rect x="502.0" y="336.67" width="13.8" height="14.04" fill="#9c474c"/>
<rect x="502.0" y="350.66" width="13.8" height="14.04" fill="#e0e0e0"/>
<rect x="502.0" y="364.64" width="13.8" height="14.04" fill="#e2262c"/>
<rect x="502.0" y="378.63" width="13.8" height="28.02" fill="#e0e0e0"/>
<rect x="502.0" y="406.60" width="13.8" height="28.02" fill="#fbbb1d"/>
<rect x="502.0" y="434.57" width="13.8" height="28.02" fill="#000000"/>
<rect x="502.0" y="462.54" width="13.8" height="14.04" fill="#fbbb1d"/>
<rect x="502.0" y="476.52" width="13.8" height="14.04" fill="#4358a8"/>
<rect x="502.0" y="490.51" width="13.8" height="28.02" fill="#e2262c"/>
<rect x="502.0" y="518.48" width="13.8" height="28.02" fill="#000000"/>
<rect x="502.0" y="546.45" width="13.8" height="28.02" fill="#c257a8"/>
<rect x="502.0" y="574.42" width="13.8" height="14.04" fill="#e2262c"/>
<rect x="502.0" y="588.40" width="13.8" height="14.04" fill="#c257a8"/>
<rect x="502.0" y="602.39" width="13.8" height="14.04" fill="#fbbb1d"/>
<rect x="502.0" y="616.38" width="13.8" height="14.04" fill="#4358a8"/>
<rect x="502.0" y="630.36" width="13.8" height="14.04" fill="#e2262c"/>
<rect x="502.0" y="644.34" width="13.8" height="28.02" fill="#000000"/>
<rect x="502.0" y="672.31" width="13.8" height="42.00" fill="#c257a8"/>
<rect x="502.0" y="714.27" width="13.8" height="28.02" fill="#fbbb1d"/>
<rect x="502.0" y="742.24" width="13.8" height="42.00" fill="#000000"/>
<rect x="502.0" y="784.19" width="13.8" height="14.04" fill="#e0e0e0"/>
<rect x="502.0" y="798.18" width="13.8" height="28.02" fill="#000000"/>
<rect x="502.0" y="826.15" width="13.8" height="83.96" fill="#e0e0e0"/>
<rect x="502.0" y="910.06" width="13.8" height="14.04" fill="#000000"/>
<path d="M502 154.9H515.8V159.6Q508 159 502 155.6Z" fill="#dceff6"/><path d="M502 308.6H515.8V312.6Q508 312 502 309.2Z" fill="#dceff6"/>
</g>
<text class="l" transform="translate(518.9,136.1) scale(1.105,1)" xml:space="preserve">Hexadecane <tspan class="b">(47)</tspan></text>
<text class="l" transform="translate(518.5,150.3) scale(1.105,1)" xml:space="preserve">6-Methyl-5-heptene-2-one <tspan class="b">(37)</tspan></text>
<text class="l" transform="translate(519.5,163.0) scale(1.105,1)" xml:space="preserve">Tetradecane <tspan class="b">(44)</tspan></text>
<text class="l" transform="translate(520.0,177.5) scale(1.105,1)" xml:space="preserve">Tridecane <tspan class="b">(43)</tspan></text>
<text class="l" transform="translate(518.9,191.6) scale(1.105,1)" xml:space="preserve">Geranyl acetone <tspan class="b">(30)</tspan></text>
<text class="l" transform="translate(519.5,205.5) scale(1.105,1)" xml:space="preserve">Nonanal <tspan class="b">(40)</tspan></text>
<text class="l" transform="translate(520.0,218.8) scale(1.105,1)" xml:space="preserve">Decanal <tspan class="b">(42)</tspan></text>
<text class="l" transform="translate(520.0,233.8) scale(1.105,1)" xml:space="preserve">Benzyl acetate <tspan class="b">(14)</tspan></text>
<text class="l" transform="translate(520.0,248.2) scale(1.105,1)" xml:space="preserve">Heptadecane <tspan class="b">(48)</tspan></text>
<text class="l" transform="translate(520.0,262.9) scale(1.105,1)" xml:space="preserve">Methylvanillin <tspan class="b">(7)</tspan></text>
<text class="l" transform="translate(518.9,276.8) scale(1.105,1)" xml:space="preserve">Sabinene <tspan class="b">(24)</tspan></text>
<text class="l" transform="translate(519.5,290.6) scale(1.105,1)" xml:space="preserve">Tetracosane <tspan class="b">(51)</tspan></text>
<text class="l" transform="translate(519.5,304.2) scale(1.105,1)" xml:space="preserve">Squalene <tspan class="b">(38)</tspan></text>
<text class="l" transform="translate(519.5,317.3) scale(1.105,1)" xml:space="preserve">Heneicosane <tspan class="b">(49)</tspan></text>
<text class="l" transform="translate(519.5,330.9) scale(1.105,1)" xml:space="preserve"><tspan class="i">α</tspan>-Terpineol <tspan class="b">(27)</tspan></text>
<text class="l" transform="translate(519.5,345.6) scale(1.105,1)" xml:space="preserve">Naphthalene <tspan class="b">(57)</tspan></text>
<text class="l" transform="translate(519.5,359.4) scale(1.105,1)" xml:space="preserve">Delta decalactone <tspan class="b">(45)</tspan></text>
<text class="l" transform="translate(518.9,373.9) scale(1.105,1)" xml:space="preserve">(<tspan class="i">E</tspan>)-Isoeugenol <tspan class="b">(17)</tspan></text>
<text class="l" transform="translate(519.5,388.3) scale(1.105,1)" xml:space="preserve">Dodecane <tspan class="b">(41)</tspan></text>
<text class="l" transform="translate(519.5,402.4) scale(1.105,1)" xml:space="preserve">Undecane <tspan class="b">(39)</tspan></text>
<text class="l" transform="translate(518.9,416.8) scale(1.105,1)" xml:space="preserve">1,8-Cineole <tspan class="b">(25)</tspan></text>
<text class="l" transform="translate(518.9,429.9) scale(1.105,1)" xml:space="preserve">(+)-<tspan class="i">α</tspan>-Pinene <tspan class="b">(22)</tspan></text>
<text class="l" transform="translate(524.5,445.4) scale(1.105,1)" xml:space="preserve">Benzyl hexanoate <tspan class="b">(13)</tspan></text>
<text class="l" transform="translate(524.5,459.8) scale(1.105,1)" xml:space="preserve">Benzyl butyrate <tspan class="b">(12)</tspan></text>
<text class="l" transform="translate(519.5,473.2) scale(1.105,1)" xml:space="preserve">β-Pinene <tspan class="b">(23)</tspan></text>
<text class="l" transform="translate(519.5,485.9) scale(1.105,1)" xml:space="preserve">Indole <tspan class="b">(20)</tspan></text>
<text class="l" transform="translate(518.1,500.9) scale(1.105,1)" xml:space="preserve">(<tspan class="i">Z</tspan>)-Isoeugenol <tspan class="b">(18)</tspan></text>
<text class="l" transform="translate(520.0,514.0) scale(1.105,1)" xml:space="preserve">Eugenol <tspan class="b">(15)</tspan></text>
<text class="l" transform="translate(520.0,528.3) scale(1.105,1)" xml:space="preserve">Benzyl 4-methylpentanoate <tspan class="b">(11)</tspan></text>
<text class="l" transform="translate(520.0,540.3) scale(1.105,1)" xml:space="preserve">Phenylethyl benzoate <tspan class="b">(10)</tspan></text>
<text class="l" transform="translate(520.0,554.7) scale(1.105,1)" xml:space="preserve">Farnesal <tspan class="b">(35)</tspan></text>
<text class="l" transform="translate(520.0,568.8) scale(1.105,1)" xml:space="preserve">Farnesol <tspan class="b">(34)</tspan></text>
<text class="l" transform="translate(519.5,582.7) scale(1.105,1)" xml:space="preserve">Methyl isoeugenol <tspan class="b">(19)</tspan></text>
<text class="l" transform="translate(519.5,598.5) scale(1.105,1)" xml:space="preserve">Farnesyl acetate <tspan class="b">(36)</tspan></text>
<text class="l" transform="translate(518.1,610.2) scale(1.105,1)" xml:space="preserve">Geraniol <tspan class="b">(26)</tspan></text>
<text class="l" transform="translate(519.5,623.8) scale(1.105,1)" xml:space="preserve">Methyl 2-aminobenzoate <tspan class="b">(21)</tspan></text>
<text class="l" transform="translate(518.9,636.0) scale(1.105,1)" xml:space="preserve">Methyleugenol <tspan class="b">(16)</tspan></text>
<text class="l" transform="translate(518.1,652.1) scale(1.105,1)" xml:space="preserve">Benzyl benzoate <tspan class="b">(6)</tspan></text>
<text class="l" transform="translate(518.1,666.8) scale(1.105,1)" xml:space="preserve">Benzyl salicylate <tspan class="b">(5)</tspan></text>
<text class="l" transform="translate(518.9,680.9) scale(1.105,1)" xml:space="preserve">β-Caryophyllene <tspan class="b">(31)</tspan></text>
<text class="l" transform="translate(518.1,695.9) scale(1.105,1)" xml:space="preserve">Germacrene D <tspan class="b">(32)</tspan></text>
<text class="l" transform="translate(518.1,709.5) scale(1.105,1)" xml:space="preserve"><tspan class="i">α</tspan>-Farnesene <tspan class="b">(33)</tspan></text>
<text class="l" transform="translate(518.1,722.8) scale(1.105,1)" xml:space="preserve">Geranyl acetate <tspan class="b">(29)</tspan></text>
<text class="l" transform="translate(520.0,737.8) scale(1.105,1)" xml:space="preserve">Methyl geranate <tspan class="b">(28)</tspan></text>
<text class="l" transform="translate(519.5,751.1) scale(1.105,1)" xml:space="preserve">Methyl salicylate <tspan class="b">(4)</tspan></text>
<text class="l" transform="translate(520.0,765.8) scale(1.105,1)" xml:space="preserve">Methyl benzoate <tspan class="b">(3)</tspan></text>
<text class="l" transform="translate(519.5,779.6) scale(1.105,1)" xml:space="preserve">Benzaldehyde <tspan class="b">(2)</tspan></text>
<text class="l" transform="translate(519.5,793.5) scale(1.105,1)" xml:space="preserve">Pentadecane <tspan class="b">(46)</tspan></text>
<text class="l" transform="translate(524.5,806.6) scale(1.105,1)" xml:space="preserve"><tspan class="i">p</tspan>-Diethylbenzene <tspan class="b">(9)</tspan></text>
<text class="l" transform="translate(524.5,820.4) scale(1.105,1)" xml:space="preserve"><tspan class="i">o</tspan>-Diethylbenzene <tspan class="b">(8)</tspan></text>
<text class="l" transform="translate(517.5,834.8) scale(1.105,1)" xml:space="preserve">Octacosane <tspan class="b">(55)</tspan></text>
<text class="l" transform="translate(518.1,849.0) scale(1.105,1)" xml:space="preserve">Hexacosane <tspan class="b">(53)</tspan></text>
<text class="l" transform="translate(518.1,863.4) scale(1.105,1)" xml:space="preserve">Heptacosane <tspan class="b">(54)</tspan></text>
<text class="l" transform="translate(518.1,874.8) scale(1.105,1)" xml:space="preserve">Pentacosane <tspan class="b">(52)</tspan></text>
<text class="l" transform="translate(518.1,888.4) scale(1.105,1)" xml:space="preserve">Nonacosane <tspan class="b">(56)</tspan></text>
<text class="l" transform="translate(518.1,905.0) scale(1.105,1)" xml:space="preserve">Tricosane <tspan class="b">(50)</tspan></text>
<text class="l" transform="translate(518.1,920.3) scale(1.105,1)" xml:space="preserve">Methyl benzene <tspan class="b">(1)</tspan></text>
<path d="M524.2 438.5H520.2V458.7H524.2M524.2 803.3H520.2V820.4H524.2" stroke="#111" stroke-width="1.1" fill="none"/>
<text class="l" transform="translate(245.0,918.1) rotate(-90) scale(1.105,1)" text-anchor="end">C/DCM</text>
<text class="l" transform="translate(258.9,918.1) rotate(-90) scale(1.105,1)" text-anchor="end">P+C/Hex</text>
<text class="l" transform="translate(272.8,918.1) rotate(-90) scale(1.105,1)" text-anchor="end">P+C+G/Hex</text>
<text class="l" transform="translate(286.6,918.1) rotate(-90) scale(1.105,1)" text-anchor="end">C/Hex</text>
<text class="l" transform="translate(300.5,918.1) rotate(-90) scale(1.105,1)" text-anchor="end">G/DCM</text>
<text class="l" transform="translate(314.3,918.1) rotate(-90) scale(1.105,1)" text-anchor="end">P+G/Hex</text>
<text class="l" transform="translate(328.2,918.1) rotate(-90) scale(1.105,1)" text-anchor="end">P+T+G/Hex</text>
<text class="l" transform="translate(342.1,918.1) rotate(-90) scale(1.105,1)" text-anchor="end">T+P/Hex</text>
<text class="l" transform="translate(355.9,918.1) rotate(-90) scale(1.105,1)" text-anchor="end">P/DCM</text>
<text class="l" transform="translate(369.8,918.1) rotate(-90) scale(1.105,1)" text-anchor="end">P+C+G/DCM</text>
<text class="l" transform="translate(383.6,918.1) rotate(-90) scale(1.105,1)" text-anchor="end">T/Hex</text>
<text class="l" transform="translate(397.5,918.1) rotate(-90) scale(1.105,1)" text-anchor="end">P/Hex</text>
<text class="l" transform="translate(411.3,918.1) rotate(-90) scale(1.105,1)" text-anchor="end">T+G/Hex</text>
<text class="l" transform="translate(425.2,918.1) rotate(-90) scale(1.105,1)" text-anchor="end">P+C/DCM</text>
<text class="l" transform="translate(439.1,918.1) rotate(-90) scale(1.105,1)" text-anchor="end">P+G/DCM</text>
<text class="l" transform="translate(452.9,918.1) rotate(-90) scale(1.105,1)" text-anchor="end">T+C/Hex</text>
<text class="l" transform="translate(466.8,918.1) rotate(-90) scale(1.105,1)" text-anchor="end">P+T+C/Hex</text>
<text class="l" transform="translate(480.7,918.1) rotate(-90) scale(1.105,1)" text-anchor="end">P+T+G+C/Hex</text>
<text class="l" transform="translate(494.5,918.1) rotate(-90) scale(1.105,1)" text-anchor="end">G/Hex</text>
<text class="s" x="156.6" y="17.0" font-size="19.5">C</text>
<text class="s" x="87.4" y="266" font-size="19">B</text>
<text class="s" x="449.6" y="900.2" font-size="19.5">A</text>
<rect x="528.9" y="962.4" width="23.9" height="13" fill="#dde1ec"/>
<rect x="552.7" y="962.4" width="21.2" height="13" fill="#b5bfd9"/>
<rect x="573.8" y="962.4" width="15.4" height="13" fill="#9ca8cc"/>
<rect x="589.1" y="962.4" width="15.0" height="13" fill="#7d8ebe"/>
<rect x="604.0" y="962.4" width="16.9" height="13" fill="#5d73ad"/>
<rect x="620.8" y="962.4" width="17.1" height="13" fill="#2f4a8b"/>
<rect x="637.8" y="962.4" width="17.1" height="13" fill="#2b2e6e"/>
<text x="523.4" y="973.2" font-size="9.4" style="fill:#111">L</text>
<text x="643.6" y="972.3" font-size="8" style="fill:#fff">H</text>
</svg></body></html>
